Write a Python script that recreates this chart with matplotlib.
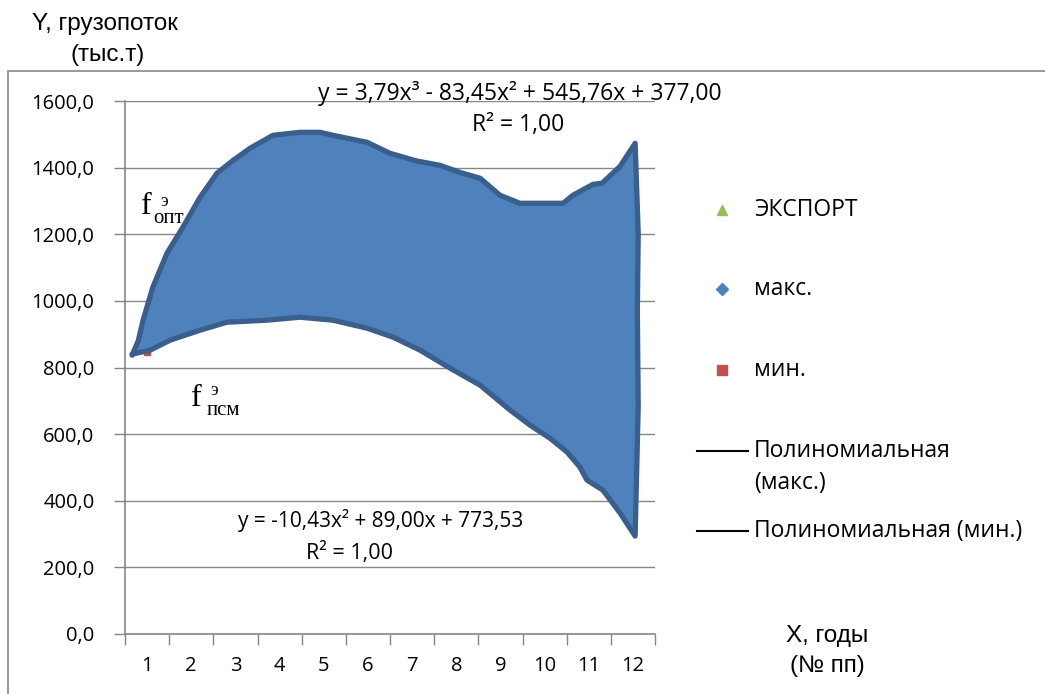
import matplotlib
matplotlib.use("Agg")
import matplotlib.pyplot as plt
from matplotlib.lines import Line2D
from matplotlib.patches import Rectangle

W, H = 1045, 694

# верхняя граница (макс.), x в номерах лет
upper_x = [0.66, 0.80, 0.91, 1.13, 1.45, 1.81, 2.20, 2.58, 2.95, 3.33, 3.85, 4.46, 4.91,
           5.21, 5.98, 6.50, 7.10, 7.63, 8.10, 8.54, 8.99, 9.44, 10.12, 10.42, 10.64,
           11.10, 11.30, 11.71, 12.05]
upper_y = [837, 880, 942, 1041, 1143, 1221, 1311, 1383, 1422, 1458, 1497, 1506, 1506,
           1497, 1476, 1443, 1420, 1407, 1385, 1368, 1317, 1293, 1293, 1293, 1317,
           1350, 1353, 1404, 1473]
# правый край
edge_x = [12.12, 12.10, 12.12]
edge_y = [1203, 970, 684]
# нижняя граница (мин.), справа налево
lower_x = [12.05, 11.71, 11.32, 10.96, 10.80, 10.51, 10.12, 9.67, 9.22, 8.54, 7.86,
           7.18, 6.57, 5.98, 5.21, 4.46, 3.71, 2.81, 2.20, 1.52, 1.07, 0.66]
lower_y = [294, 363, 432, 462, 501, 546, 588, 627, 672, 747, 798,
           852, 891, 918, 942, 951, 942, 936, 912, 882, 852, 840]

min_x = [1]
min_y = [846]

years = list(range(1, 13))
y_ticks = list(range(0, 1601, 200))

grey = "#868686"
tick_font = "Open Sans"


def fx(px):
    return px / W


def fy(py):
    return 1 - py / H


fig = plt.figure(figsize=(W / 100, H / 100), dpi=100)
fig.patch.set_facecolor("white")

# рамка диаграммы
fig.add_artist(Rectangle((fx(8), fy(1000)), 2, fy(71) - fy(1000), transform=fig.transFigure,
                         fill=False, edgecolor=grey, lw=1.2))

ax = fig.add_axes([fx(125), fy(634), fx(655) - fx(125), fy(101) - fy(634)])
ax.set_xlim(0.5, 12.5)
ax.set_ylim(0, 1600)

ax.scatter(min_x, min_y, marker="s", s=22, color="#C0504D", zorder=2)

shape_x = upper_x + edge_x + lower_x
shape_y = upper_y + edge_y + lower_y
ax.fill(shape_x, shape_y, facecolor="#4F81BD", edgecolor="#3A5F8C", lw=3.8,
        joinstyle="round", zorder=3)

ax.set_yticks(y_ticks)
ax.set_yticklabels([f"{v:.1f}".replace(".", ",") for v in y_ticks],
                   fontfamily=tick_font, fontsize=14.5)
ax.set_xticks(years)
ax.set_xticklabels([str(v) for v in years], fontfamily=tick_font, fontsize=14.5)
ax.set_xticks([v + 0.5 for v in range(0, 13)], minor=True)
ax.tick_params(axis="x", which="major", length=0, pad=16)
ax.tick_params(axis="x", which="minor", length=8, width=1, color=grey, direction="out")
ax.tick_params(axis="y", length=8, width=1, color=grey, direction="out", pad=14)
ax.grid(axis="y", color=grey, lw=1)
ax.set_axisbelow(True)
for s in ["top", "right"]:
    ax.spines[s].set_visible(False)
for s in ["left", "bottom"]:
    ax.spines[s].set_color(grey)
    ax.spines[s].set_linewidth(1.2)

# уравнения трендов
fig.text(fx(520), fy(93), "y = 3,79x³ - 83,45x² + 545,76x + 377,00", ha="center", va="center",
         fontfamily=tick_font, fontsize=16.5)
fig.text(fx(518), fy(125), "R² = 1,00", ha="center", va="center", fontfamily=tick_font,
         fontsize=16.5)
fig.text(fx(381), fy(521), "y = -10,43x² + 89,00x + 773,53", ha="center", va="center",
         fontfamily=tick_font, fontsize=15)
fig.text(fx(349), fy(553), "R² = 1,00", ha="center", va="center", fontfamily=tick_font,
         fontsize=15.5)

# подписи кривых
serif = "Liberation Serif"
fig.text(fx(141), fy(214), "f", fontfamily=serif, fontsize=23, va="baseline")
fig.text(fx(160), fy(193), "э", fontfamily=serif, fontsize=13, va="top")
fig.text(fx(153), fy(223), "опт", fontfamily=serif, fontsize=15, va="baseline")
fig.text(fx(191), fy(406), "f", fontfamily=serif, fontsize=23, va="baseline")
fig.text(fx(210), fy(382), "э", fontfamily=serif, fontsize=13, va="top")
fig.text(fx(207), fy(415), "псм", fontfamily=serif, fontsize=15, va="baseline")

# подписи осей
sans = "Liberation Sans"
fig.text(fx(32), fy(24), "Y, грузопоток", fontfamily=sans, fontsize=17.5, va="center")
fig.text(fx(70), fy(55), "(тыс.т)", fontfamily=sans, fontsize=17.5, va="center")
fig.text(fx(827), fy(636), "X, годы", fontfamily=sans, fontsize=17.5, va="center", ha="center")
fig.text(fx(827), fy(666), "(№ пп)", fontfamily=sans, fontsize=17.5, va="center", ha="center")

# легенда
leg_font = 16.5
fig.add_artist(Line2D([fx(722)], [fy(210)], marker="^", color="#9BBB59", ms=7, ls="none",
                      transform=fig.transFigure))
fig.text(fx(754), fy(210), "ЭКСПОРТ", fontfamily=tick_font, fontsize=leg_font, va="center")
fig.add_artist(Line2D([fx(722)], [fy(289)], marker="D", color="#4F81BD", ms=6, ls="none",
                      transform=fig.transFigure))
fig.text(fx(754), fy(289), "макс.", fontfamily=tick_font, fontsize=leg_font, va="center")
fig.add_artist(Line2D([fx(722)], [fy(370)], marker="s", color="#C0504D", ms=7, ls="none",
                      transform=fig.transFigure))
fig.text(fx(754), fy(370), "мин.", fontfamily=tick_font, fontsize=leg_font, va="center")
fig.add_artist(Line2D([fx(697), fx(748)], [fy(451), fy(451)], color="black", lw=1.5,
                      transform=fig.transFigure))
fig.text(fx(754), fy(451), "Полиномиальная", fontfamily=tick_font, fontsize=leg_font, va="center")
fig.text(fx(754), fy(483), "(макс.)", fontfamily=tick_font, fontsize=leg_font, va="center")
fig.add_artist(Line2D([fx(697), fx(748)], [fy(531), fy(531)], color="black", lw=1.5,
                      transform=fig.transFigure))
fig.text(fx(754), fy(531), "Полиномиальная (мин.)", fontfamily=tick_font, fontsize=leg_font,
         va="center")

fig.savefig("out.png", dpi=100)
